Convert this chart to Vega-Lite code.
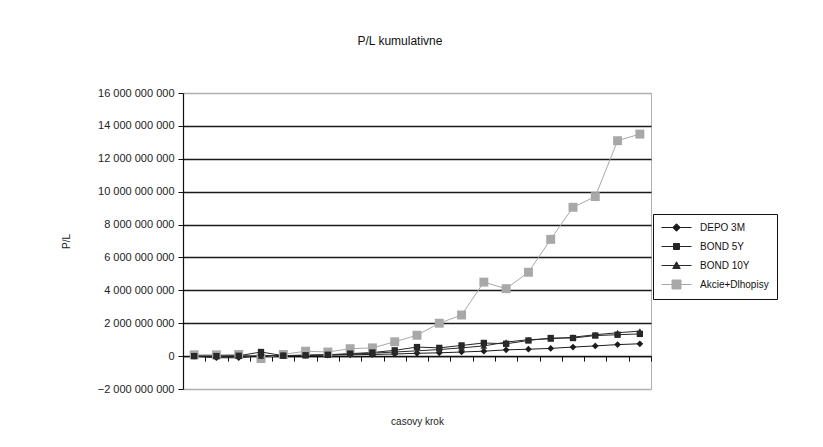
{
  "$schema": "https://vega.github.io/schema/vega-lite/v6.json",
  "autosize": {"type": "none"},
  "width": 468,
  "height": 296,
  "padding": {"left": 183, "top": 93, "right": 172, "bottom": 58},
  "background": "white",
  "title": {
    "text": "P/L kumulativne",
    "fontSize": 12,
    "fontWeight": "normal",
    "font": "Liberation Sans",
    "color": "#111",
    "anchor": "middle",
    "dx": -17,
    "offset": 39
  },
  "config": {
    "view": {"stroke": "#b0b0b0", "strokeWidth": 1},
    "font": "Liberation Sans"
  },
  "data": {
    "values": [
      {"krok": 1, "serie": "Akcie+Dlhopisy", "pl": 80000000},
      {"krok": 2, "serie": "Akcie+Dlhopisy", "pl": 80000000},
      {"krok": 3, "serie": "Akcie+Dlhopisy", "pl": 100000000},
      {"krok": 4, "serie": "Akcie+Dlhopisy", "pl": -150000000},
      {"krok": 5, "serie": "Akcie+Dlhopisy", "pl": 100000000},
      {"krok": 6, "serie": "Akcie+Dlhopisy", "pl": 300000000},
      {"krok": 7, "serie": "Akcie+Dlhopisy", "pl": 250000000},
      {"krok": 8, "serie": "Akcie+Dlhopisy", "pl": 450000000},
      {"krok": 9, "serie": "Akcie+Dlhopisy", "pl": 500000000},
      {"krok": 10, "serie": "Akcie+Dlhopisy", "pl": 870000000},
      {"krok": 11, "serie": "Akcie+Dlhopisy", "pl": 1270000000},
      {"krok": 12, "serie": "Akcie+Dlhopisy", "pl": 2000000000},
      {"krok": 13, "serie": "Akcie+Dlhopisy", "pl": 2500000000},
      {"krok": 14, "serie": "Akcie+Dlhopisy", "pl": 4500000000},
      {"krok": 15, "serie": "Akcie+Dlhopisy", "pl": 4100000000},
      {"krok": 16, "serie": "Akcie+Dlhopisy", "pl": 5100000000},
      {"krok": 17, "serie": "Akcie+Dlhopisy", "pl": 7100000000},
      {"krok": 18, "serie": "Akcie+Dlhopisy", "pl": 9050000000},
      {"krok": 19, "serie": "Akcie+Dlhopisy", "pl": 9700000000},
      {"krok": 20, "serie": "Akcie+Dlhopisy", "pl": 13100000000},
      {"krok": 21, "serie": "Akcie+Dlhopisy", "pl": 13500000000},

      {"krok": 1, "serie": "DEPO 3M", "pl": 0},
      {"krok": 2, "serie": "DEPO 3M", "pl": -100000000},
      {"krok": 3, "serie": "DEPO 3M", "pl": -100000000},
      {"krok": 4, "serie": "DEPO 3M", "pl": 20000000},
      {"krok": 5, "serie": "DEPO 3M", "pl": 30000000},
      {"krok": 6, "serie": "DEPO 3M", "pl": 50000000},
      {"krok": 7, "serie": "DEPO 3M", "pl": 60000000},
      {"krok": 8, "serie": "DEPO 3M", "pl": 80000000},
      {"krok": 9, "serie": "DEPO 3M", "pl": 100000000},
      {"krok": 10, "serie": "DEPO 3M", "pl": 130000000},
      {"krok": 11, "serie": "DEPO 3M", "pl": 170000000},
      {"krok": 12, "serie": "DEPO 3M", "pl": 200000000},
      {"krok": 13, "serie": "DEPO 3M", "pl": 250000000},
      {"krok": 14, "serie": "DEPO 3M", "pl": 300000000},
      {"krok": 15, "serie": "DEPO 3M", "pl": 380000000},
      {"krok": 16, "serie": "DEPO 3M", "pl": 420000000},
      {"krok": 17, "serie": "DEPO 3M", "pl": 470000000},
      {"krok": 18, "serie": "DEPO 3M", "pl": 550000000},
      {"krok": 19, "serie": "DEPO 3M", "pl": 620000000},
      {"krok": 20, "serie": "DEPO 3M", "pl": 700000000},
      {"krok": 21, "serie": "DEPO 3M", "pl": 750000000},

      {"krok": 1, "serie": "BOND 5Y", "pl": 0},
      {"krok": 2, "serie": "BOND 5Y", "pl": 0},
      {"krok": 3, "serie": "BOND 5Y", "pl": 20000000},
      {"krok": 4, "serie": "BOND 5Y", "pl": 250000000},
      {"krok": 5, "serie": "BOND 5Y", "pl": 30000000},
      {"krok": 6, "serie": "BOND 5Y", "pl": 50000000},
      {"krok": 7, "serie": "BOND 5Y", "pl": 80000000},
      {"krok": 8, "serie": "BOND 5Y", "pl": 150000000},
      {"krok": 9, "serie": "BOND 5Y", "pl": 220000000},
      {"krok": 10, "serie": "BOND 5Y", "pl": 350000000},
      {"krok": 11, "serie": "BOND 5Y", "pl": 550000000},
      {"krok": 12, "serie": "BOND 5Y", "pl": 500000000},
      {"krok": 13, "serie": "BOND 5Y", "pl": 650000000},
      {"krok": 14, "serie": "BOND 5Y", "pl": 800000000},
      {"krok": 15, "serie": "BOND 5Y", "pl": 750000000},
      {"krok": 16, "serie": "BOND 5Y", "pl": 950000000},
      {"krok": 17, "serie": "BOND 5Y", "pl": 1100000000},
      {"krok": 18, "serie": "BOND 5Y", "pl": 1100000000},
      {"krok": 19, "serie": "BOND 5Y", "pl": 1250000000},
      {"krok": 20, "serie": "BOND 5Y", "pl": 1300000000},
      {"krok": 21, "serie": "BOND 5Y", "pl": 1350000000},

      {"krok": 1, "serie": "BOND 10Y", "pl": 0},
      {"krok": 2, "serie": "BOND 10Y", "pl": 0},
      {"krok": 3, "serie": "BOND 10Y", "pl": 10000000},
      {"krok": 4, "serie": "BOND 10Y", "pl": 20000000},
      {"krok": 5, "serie": "BOND 10Y", "pl": 30000000},
      {"krok": 6, "serie": "BOND 10Y", "pl": 50000000},
      {"krok": 7, "serie": "BOND 10Y", "pl": 80000000},
      {"krok": 8, "serie": "BOND 10Y", "pl": 120000000},
      {"krok": 9, "serie": "BOND 10Y", "pl": 180000000},
      {"krok": 10, "serie": "BOND 10Y", "pl": 250000000},
      {"krok": 11, "serie": "BOND 10Y", "pl": 320000000},
      {"krok": 12, "serie": "BOND 10Y", "pl": 400000000},
      {"krok": 13, "serie": "BOND 10Y", "pl": 500000000},
      {"krok": 14, "serie": "BOND 10Y", "pl": 620000000},
      {"krok": 15, "serie": "BOND 10Y", "pl": 850000000},
      {"krok": 16, "serie": "BOND 10Y", "pl": 1000000000},
      {"krok": 17, "serie": "BOND 10Y", "pl": 1050000000},
      {"krok": 18, "serie": "BOND 10Y", "pl": 1150000000},
      {"krok": 19, "serie": "BOND 10Y", "pl": 1300000000},
      {"krok": 20, "serie": "BOND 10Y", "pl": 1420000000},
      {"krok": 21, "serie": "BOND 10Y", "pl": 1520000000}
    ]
  },
  "encoding": {
    "x": {
      "field": "krok",
      "type": "ordinal",
      "sort": "ascending",
      "scale": {"type": "band", "paddingInner": 0, "paddingOuter": 0},
      "axis": {
        "title": "casovy krok",
        "titleFont": "Liberation Sans",
        "titleFontSize": 10,
        "titleFontWeight": "normal",
        "titleColor": "#222",
        "titlePadding": 55,
        "labels": false,
        "tickBand": "extent",
        "ticks": true,
        "tickSize": 5,
        "tickColor": "#111",
        "domainColor": "#111",
        "domainWidth": 1.2,
        "offset": -32.9,
        "grid": false
      }
    },
    "y": {
      "field": "pl",
      "type": "quantitative",
      "scale": {"domain": [-2000000000, 16000000000], "nice": false, "zero": false},
      "axis": {
        "title": "P/L",
        "titleFont": "Liberation Sans",
        "titleFontSize": 10,
        "titleFontWeight": "normal",
        "titleColor": "#222",
        "titlePadding": 26,
        "values": [-2000000000, 0, 2000000000, 4000000000, 6000000000, 8000000000, 10000000000, 12000000000, 14000000000, 16000000000],
        "labelExpr": "replace(format(datum.value, ','), regexp(',', 'g'), ' ')",
        "labelFont": "Liberation Sans",
        "labelFontSize": 11,
        "labelColor": "#222",
        "labelPadding": 4,
        "tickSize": 5,
        "tickColor": "#111",
        "domainColor": "#111",
        "domainWidth": 1.2,
        "grid": true,
        "gridColor": {
          "condition": {"test": "datum.value >= 16000000000 || datum.value <= -2000000000", "value": "#b0b0b0"},
          "value": "#1a1a1a"
        },
        "gridWidth": 1.4
      }
    },
    "color": {
      "field": "serie",
      "type": "nominal",
      "scale": {
        "domain": ["DEPO 3M", "BOND 5Y", "BOND 10Y", "Akcie+Dlhopisy"],
        "range": ["#1c1c1c", "#262626", "#2a2a2a", "#a8a8a8"]
      },
      "legend": {
        "title": null,
        "orient": "none",
        "legendX": 470,
        "legendY": 121,
        "strokeColor": "#111",
        "padding": 8,
        "rowPadding": 7,
        "labelFont": "Liberation Sans",
        "labelFontSize": 10,
        "labelColor": "#111",
        "symbolSize": 100,
        "labelOffset": 28,
        "encode": {
          "symbols": {
            "update": {
              "shape": {"signal": "datum.value == 'DEPO 3M' ? 'M-1,0H5M2,-0.75L2.75,0L2,0.75L1.25,0Z' : datum.value == 'BOND 5Y' ? 'M-1,0H5M1.4,-0.6H2.6V0.6H1.4Z' : datum.value == 'BOND 10Y' ? 'M-1,0H5M2,-0.75L2.75,0.6H1.25Z' : 'M-1,0H5M1.1,-0.9H2.9V0.9H1.1Z'"},
              "size": {"value": 100},
              "fill": {"signal": "scale('color', datum.value)"},
              "stroke": {"signal": "scale('color', datum.value)"},
              "strokeWidth": {"value": 1},
              "opacity": {"value": 1},
              "fillOpacity": {"value": 1}
            }
          }
        }
      }
    }
  },
  "layer": [
    {
      "mark": {"type": "line", "strokeWidth": 1},
      "encoding": {
        "strokeWidth": {
          "condition": {"test": "datum.serie == 'Akcie+Dlhopisy'", "value": 0.8},
          "value": 1.2
        }
      }
    },
    {
      "mark": {"type": "point", "filled": true, "opacity": 1},
      "encoding": {
        "shape": {
          "condition": [
            {"test": "datum.serie == 'DEPO 3M'", "value": "diamond"},
            {"test": "datum.serie == 'BOND 10Y'", "value": "triangle-up"}
          ],
          "value": "square"
        },
        "size": {
          "condition": [
            {"test": "datum.serie == 'Akcie+Dlhopisy'", "value": 80},
            {"test": "datum.serie == 'BOND 5Y'", "value": 40}
          ],
          "value": 45
        }
      }
    }
  ]
}
